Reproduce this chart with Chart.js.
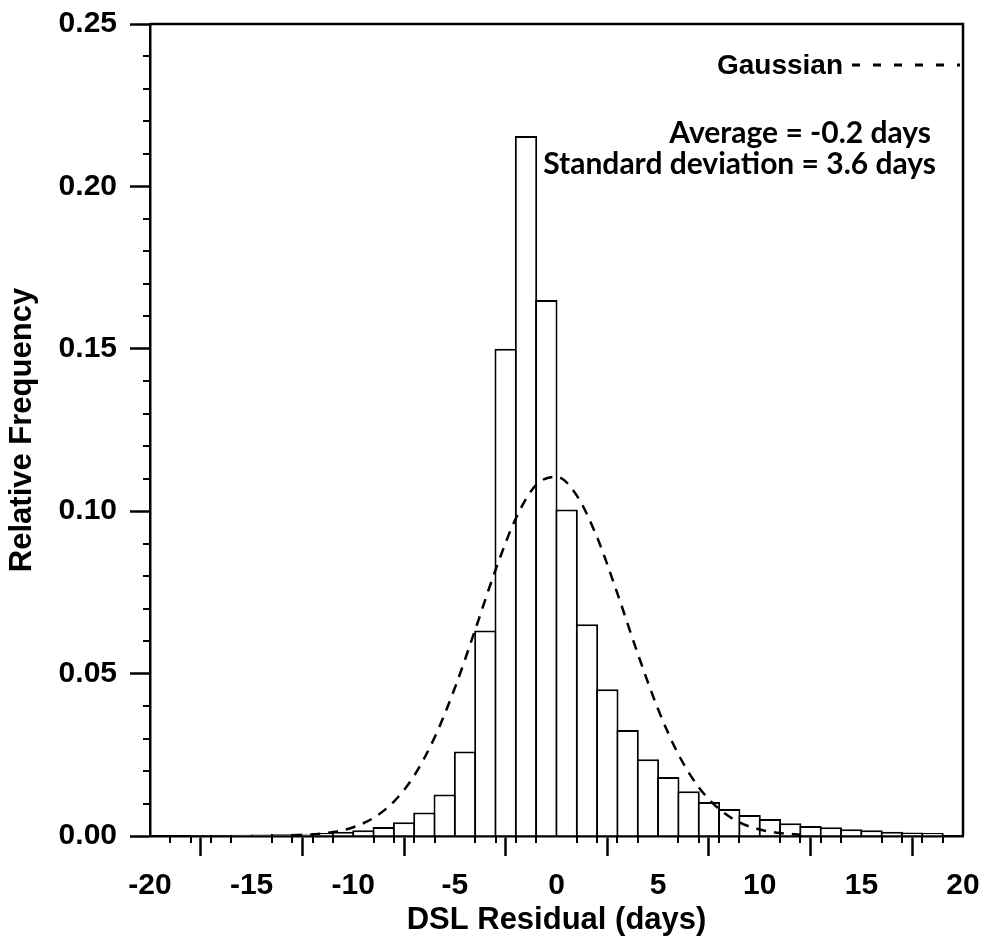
<!DOCTYPE html>
<html>
<head>
<meta charset="utf-8">
<script src="https://cdn.jsdelivr.net/npm/chart.js@4/dist/chart.umd.min.js"></script>
<style>
  body { margin: 0; background: #fff; }
</style>
</head>
<body>
<canvas id="myChart" width="984" height="939"></canvas>
<script>
// histogram bins (left edge of each 1-day bin) and relative frequency
const binLeft = [-20, -19, -18, -17, -16, -15, -14, -13, -12, -11,
                 -10, -9, -8, -7, -6, -5, -4, -3, -2, -1,
                 0, 1, 2, 3, 4, 5, 6, 7, 8, 9,
                 10, 11, 12, 13, 14, 15, 16, 17, 18]
const freq = [0.0002, 0.0002, 0.0003, 0.0003, 0.0004, 0.0005, 0.0006, 0.0007, 0.0009, 0.0013,
              0.0018, 0.0028, 0.0042, 0.0072, 0.0128, 0.026, 0.0633, 0.150, 0.2155, 0.165,
              0.1005, 0.0652, 0.0452, 0.0326, 0.0236, 0.0182, 0.0138, 0.0105, 0.0083, 0.0065,
              0.0052, 0.0039, 0.0031, 0.0027, 0.0021, 0.0018, 0.0013, 0.0011, 0.0009]

// dashed gaussian curve
const gaussX = [-13, -12, -11, -10, -9, -8, -7, -6, -5, -4, -3, -2, -1,
                0, 1, 2, 3, 4, 5, 6, 7, 8, 9, 10, 11, 12]
const gaussY = [0.0002, 0.0005, 0.0012, 0.0027, 0.0056, 0.0106, 0.0186, 0.0303, 0.0456, 0.0635, 0.0819, 0.0978, 0.1081,
                0.1106, 0.1048, 0.0919, 0.0746, 0.0561, 0.0390, 0.0251, 0.0150, 0.0083, 0.0042, 0.0020, 0.0009, 0.0004]

const xTicks = [-20, 20, 5]      // min, max, step
const yTicks = [0, 0.25, 0.05]
const notes = ['Average = -0.2 days', 'Standard deviation = 3.6 days']

const FAM = 'Liberation Sans, Arial, sans-serif'
const tickFont = { family: FAM, weight: 'bold', size: 30 }
const titleFont = { family: FAM, weight: 'bold', size: 31 }

// minor ticks, box border and the text in the upper right
const extras = {
  id: 'extras',
  afterDraw(chart) {
    const ctx = chart.ctx
    const a = chart.chartArea
    const xs = chart.scales.x, ys = chart.scales.y
    ctx.save()
    ctx.strokeStyle = '#000'
    ctx.lineWidth = 2
    ctx.beginPath()
    for (let v = xTicks[0]; v <= xTicks[1]; v++) {
      if (v % xTicks[2] === 0) continue
      const px = Math.round(xs.getPixelForValue(v))
      ctx.moveTo(px, a.bottom)
      ctx.lineTo(px, a.bottom + 7)
    }
    for (let i = 0; i <= 25; i++) {
      if (i % 5 === 0) continue
      const py = Math.round(ys.getPixelForValue(i / 100))
      ctx.moveTo(a.left, py)
      ctx.lineTo(a.left - 7, py)
    }
    ctx.stroke()

    // top + right frame
    ctx.lineWidth = 2.5
    ctx.beginPath()
    ctx.moveTo(a.left, a.top)
    ctx.lineTo(a.right, a.top)
    ctx.lineTo(a.right, a.bottom)
    ctx.stroke()

    // legend-like text
    ctx.fillStyle = '#000'
    ctx.textAlign = 'right'
    ctx.textBaseline = 'alphabetic'
    ctx.font = 'bold 28px ' + FAM
    ctx.fillText('Gaussian', 843, 74)
    ctx.lineWidth = 3
    ctx.setLineDash([8, 13])
    ctx.beginPath()
    ctx.moveTo(852, 65)
    ctx.lineTo(960, 65)
    ctx.stroke()
    ctx.setLineDash([])

    ctx.font = 'bold 30px Lato, sans-serif'
    ctx.fillText(notes[0], 931, 143)
    ctx.fillText(notes[1], 936, 174)
    ctx.restore()
  }
}

const data = {
  datasets: [{
    type: 'line',
    label: 'Gaussian',
    data: gaussX.map((x, i) => ({ x: x, y: gaussY[i] })),
    borderColor: '#000',
    borderWidth: 2.5,
    borderDash: [10, 8],
    pointRadius: 0,
    cubicInterpolationMode: 'monotone',
    fill: false,
    order: 0
  }, {
    type: 'bar',
    label: 'Relative Frequency',
    data: binLeft.map((x, i) => ({ x: x + 0.5, y: freq[i] })),
    backgroundColor: '#fff',
    borderColor: '#000',
    borderWidth: 2,
    barPercentage: 1.1,
    categoryPercentage: 1,
    order: 1
  }]
}

const config = {
  type: 'bar',
  data: data,
  plugins: [extras],
  options: {
    responsive: false,
    animation: false,
    layout: { padding: { top: 24, right: 21, left: 0, bottom: 0 } },
    plugins: { legend: { display: false }, tooltip: { enabled: false } },
    scales: {
      x: {
        type: 'linear',
        offset: false,
        min: xTicks[0],
        max: xTicks[1],
        afterFit: s => { s.height = 103; s.paddingLeft = 0; s.paddingRight = 0 },
        ticks: { stepSize: xTicks[2], color: '#000', font: tickFont, padding: 12, maxRotation: 0 },
        grid: { drawOnChartArea: false, drawTicks: true, tickLength: 20, tickWidth: 2.5, tickColor: '#000' },
        border: { display: true, color: '#000', width: 2.5 },
        title: { display: true, text: 'DSL Residual (days)', color: '#000', font: titleFont, padding: { top: 0, bottom: 0 } }
      },
      y: {
        min: yTicks[0],
        max: yTicks[1],
        afterFit: s => { s.width = 150; s.paddingTop = 0; s.paddingBottom = 0 },
        ticks: { stepSize: yTicks[2], color: '#000', font: tickFont, padding: 13, callback: v => v.toFixed(2) },
        grid: { drawOnChartArea: false, drawTicks: true, tickLength: 20, tickWidth: 2.5, tickColor: '#000' },
        border: { display: true, color: '#000', width: 2.5 },
        title: { display: true, text: 'Relative Frequency', color: '#000', font: titleFont, padding: { top: 4, bottom: 0 } }
      }
    }
  }
}

const myChart = new Chart(document.getElementById('myChart'), config)
</script>
</body>
</html>
